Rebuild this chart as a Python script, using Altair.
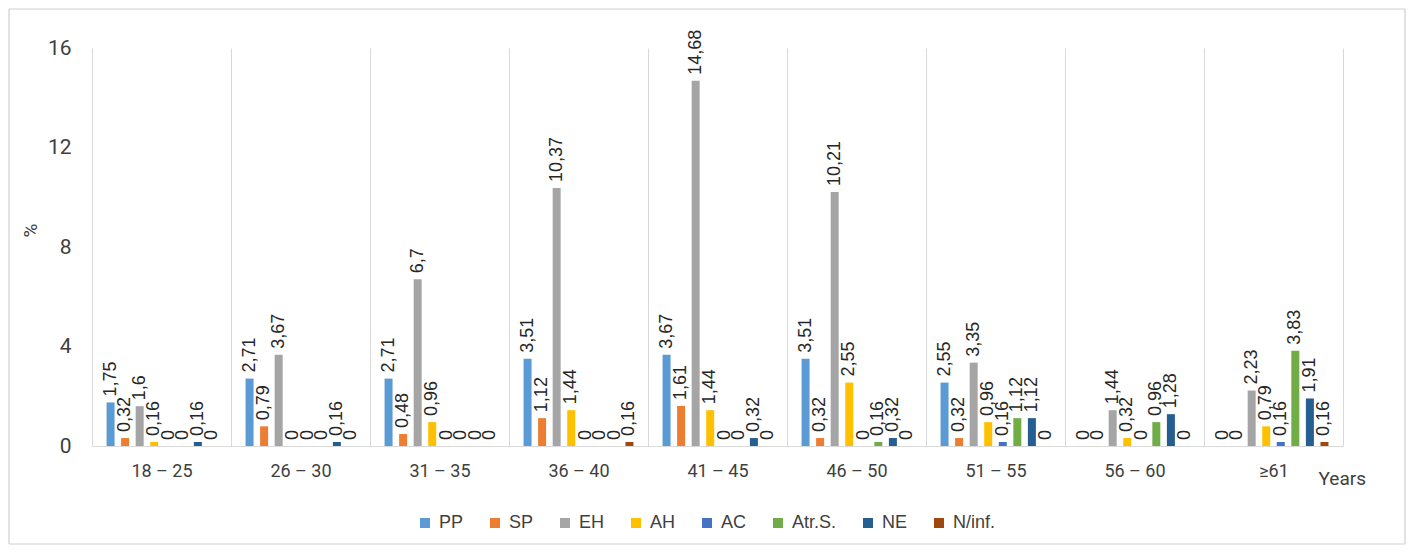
import altair as alt
import pandas as pd

groups = ["18 – 25", "26 – 30", "31 – 35", "36 – 40", "41 – 45",
          "46 – 50", "51 – 55", "56 – 60", "≥61"]
series = ["PP", "SP", "EH", "AH", "AC", "Atr.S.", "NE", "N/inf."]
colors = ["#5B9BD5", "#ED7D31", "#A5A5A5", "#FFC000", "#4472C4",
          "#70AD47", "#255E91", "#9E480E"]

PP    = [1.75, 2.71, 2.71, 3.51, 3.67, 3.51, 2.55, 0, 0]
SP    = [0.32, 0.79, 0.48, 1.12, 1.61, 0.32, 0.32, 0, 0]
EH    = [1.6, 3.67, 6.7, 10.37, 14.68, 10.21, 3.35, 1.44, 2.23]
AH    = [0.16, 0, 0.96, 1.44, 1.44, 2.55, 0.96, 0.32, 0.79]
AC    = [0, 0, 0, 0, 0, 0, 0.16, 0, 0.16]
AtrS  = [0, 0, 0, 0, 0, 0.16, 1.12, 0.96, 3.83]
NE    = [0.16, 0.16, 0, 0, 0.32, 0.32, 1.12, 1.28, 1.91]
Ninf  = [0, 0, 0, 0.16, 0, 0, 0, 0, 0.16]

values = [PP, SP, EH, AH, AC, AtrS, NE, Ninf]

rows = []
for s, vals in zip(series, values):
    for g, v in zip(groups, vals):
        rows.append({"group": g, "series": s, "value": v,
                     "label": f"{v:g}".replace(".", ",")})
df = pd.DataFrame(rows)

axis_font = "Roboto, sans-serif"
label_font = "Liberation Sans, Arial, sans-serif"

x = alt.X("group:N", sort=groups,
          scale=alt.Scale(paddingInner=0, paddingOuter=0),
          axis=alt.Axis(title="Years", titleX=1226, titleY=32, titleAlign="left",
                        titleBaseline="middle", titleFontWeight="normal",
                        titleFont=axis_font, titleFontSize=19, titleColor="#404040",
                        labelAngle=0, labelFont=axis_font, labelFontSize=18,
                        labelColor="#404040", labelPadding=16,
                        ticks=False, grid=True, tickBand="extent",
                        gridColor="#D9D9D9", domainColor="#D9D9D9"))
xo = alt.XOffset("series:N", sort=series,
                 scale=alt.Scale(paddingInner=0.45, paddingOuter=1))
y = alt.Y("value:Q", stack=None,
          scale=alt.Scale(domain=[0, 16]),
          axis=alt.Axis(values=[0, 4, 8, 12, 16], title="%", grid=False,
                        domain=False, ticks=False, labelPadding=21,
                        labelFont=axis_font, labelFontSize=21, labelColor="#404040",
                        titleFont=axis_font, titleFontSize=19, titleColor="#404040",
                        titleFontWeight="normal", titleX=-62, titleY=182,
                        titleAlign="center", titleBaseline="middle"))

color = alt.Color("series:N", sort=series,
                  scale=alt.Scale(domain=series, range=colors),
                  legend=alt.Legend(title=None, orient="none", direction="horizontal",
                                    legendX=324, legendY=466, symbolType="square",
                                    symbolSize=100, symbolStrokeWidth=0,
                                    labelFont=label_font, labelFontSize=18,
                                    labelColor="#404040", columnPadding=22,
                                    labelOffset=5))

one = pd.DataFrame({"a": [0]})
L, R, T, B = -83, 1313, -39, 496
frame_style = dict(stroke="#CFCFCF", strokeWidth=1.2)
frame = [
    alt.Chart(one).mark_rule(**frame_style).encode(
        x=alt.value(L), x2=alt.value(R), y=alt.value(T)),
    alt.Chart(one).mark_rule(**frame_style).encode(
        x=alt.value(L), x2=alt.value(R), y=alt.value(B)),
    alt.Chart(one).mark_rule(**frame_style).encode(
        x=alt.value(L), y=alt.value(T), y2=alt.value(B)),
    alt.Chart(one).mark_rule(**frame_style).encode(
        x=alt.value(R), y=alt.value(T), y2=alt.value(B)),
]

bars = alt.Chart(df).mark_bar().encode(x=x, xOffset=xo, y=y, color=color)
text = alt.Chart(df).mark_text(angle=270, align="left", baseline="middle",
                               dx=6, font=label_font, fontSize=18,
                               color="#262626").encode(
    x=x, xOffset=xo, y=y, text="label:N")

chart = alt.layer(*frame, bars, text).properties(
    width=1251, height=398,
    autosize=alt.AutoSizeParams(type="none"),
    padding={"left": 84, "top": 40, "right": 65, "bottom": 100},
).configure_view(stroke=None)

chart.save("out.html", embed_options={"renderer": "svg", "actions": False})
